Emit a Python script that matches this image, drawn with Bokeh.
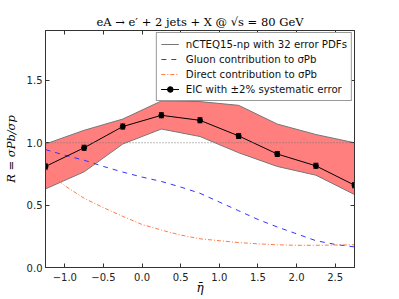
from bokeh.plotting import figure
from bokeh.models import (Range1d, LinearAxis, FixedTicker, Span, Legend, LegendItem,
                          ColumnDataSource, CustomJSTickFormatter)
from bokeh.embed import file_html
from bokeh.resources import INLINE

# ---- data ----
eta = [-1.25, -0.75, -0.25, 0.25, 0.75, 1.25, 1.75, 2.25, 2.75]
ratio = [0.81, 0.96, 1.13, 1.22, 1.18, 1.055, 0.91, 0.815, 0.66]
band_upper = [0.99, 1.10, 1.19, 1.335, 1.33, 1.30, 1.15, 1.066, 1.0]
band_lower = [0.63, 0.767, 0.99, 1.11, 1.05, 0.92, 0.81, 0.74, 0.585]
syst_err = 0.02

eta_fine = [-1.25, -1.0, -0.75, -0.5, -0.25, 0.0, 0.25, 0.5, 0.75, 1.0,
            1.25, 1.5, 1.75, 2.0, 2.25, 2.5, 2.75]
gluon = [0.945, 0.90, 0.86, 0.81, 0.765, 0.725, 0.69, 0.645, 0.595, 0.525,
         0.455, 0.385, 0.325, 0.27, 0.215, 0.185, 0.165]
direct = [0.79, 0.655, 0.555, 0.48, 0.41, 0.345, 0.30, 0.26, 0.23, 0.215,
          0.20, 0.19, 0.182, 0.178, 0.178, 0.18, 0.182]

x_ticks = [-1.0, -0.5, 0.0, 0.5, 1.0, 1.5, 2.0, 2.5]
y_ticks = [0.0, 0.5, 1.0, 1.5]

FONT = "DejaVu Sans"
SERIF = "DejaVu Serif"

fmt = CustomJSTickFormatter(code="return tick.toFixed(1).replace('-', '\\u2212');")
blank = CustomJSTickFormatter(code="return '';")

p = figure(frame_width=309, frame_height=237, output_backend="svg", toolbar_location=None,
           x_range=Range1d(-1.25, 2.75), y_range=Range1d(0.0, 1.9),
           min_border_left=42, min_border_right=32, min_border_top=30, min_border_bottom=20,
           x_axis_label="η̄", y_axis_label="R = σPb/σp",
           title="eA → e′ + 2 jets + X @ √s = 80 GeV")
p.grid.visible = False
p.background_fill_color = "white"
p.border_fill_color = "white"
p.outline_line_color = "#333333"
p.outline_line_width = 1

p.title.align = "center"
p.title.text_font = SERIF
p.title.text_font_style = "normal"
p.title.text_font_size = "11.5px"
p.title.text_color = "black"
p.title.standoff = 3

for ax in (p.xaxis[0], p.yaxis[0]):
    ax.major_tick_in = 4
    ax.major_tick_out = 0
    ax.minor_tick_line_color = None
    ax.axis_line_color = "#333333"
    ax.major_tick_line_color = "#333333"
    ax.major_label_text_font = FONT
    ax.major_label_text_font_size = "10px"
    ax.major_label_text_color = "#222222"
    ax.axis_label_text_font = SERIF
    ax.axis_label_text_font_style = "italic"
    ax.axis_label_text_font_size = "12px"
    ax.axis_label_text_color = "black"
    ax.formatter = fmt
p.xaxis[0].ticker = FixedTicker(ticks=x_ticks)
p.yaxis[0].ticker = FixedTicker(ticks=y_ticks)
p.xaxis[0].major_label_standoff = 5
p.xaxis[0].axis_label_standoff = -3
p.yaxis[0].major_label_standoff = 3
p.yaxis[0].axis_label_standoff = 6
p.yaxis[0].axis_label_text_font_size = "11.5px"

# mirrored ticks
for loc, tk in (("right", y_ticks), ("above", x_ticks)):
    a = LinearAxis(ticker=FixedTicker(ticks=tk), major_tick_in=4, major_tick_out=0,
                   minor_tick_line_color=None, formatter=blank,
                   major_label_standoff=0, axis_line_color="#333333",
                   major_tick_line_color="#333333")
    p.add_layout(a, loc)

# band
src = ColumnDataSource(dict(x=eta, y=ratio, up=band_upper, lo=band_lower,
                            ey0=[v - syst_err for v in ratio],
                            ey1=[v + syst_err for v in ratio]))
p.varea(x="x", y1="lo", y2="up", source=src, fill_color="#ff7f7f", fill_alpha=1.0)
r_band = p.line(x="x", y="up", source=src, line_color="#777777", line_width=1)
p.line(x="x", y="lo", source=src, line_color="#777777", line_width=1)

# reference line
p.add_layout(Span(location=1.0, dimension="width", line_color="#777777",
                  line_dash="1 2", line_width=1))

# contributions
r_gl = p.line(eta_fine, gluon, line_color="#3333ff", line_dash="5 5", line_width=1)
r_dir = p.line(eta_fine, direct, line_color="#ff7a40", line_dash="4 2 1 2", line_width=1)

# EIC points
r_l = p.line(x="x", y="y", source=src, line_color="black", line_width=1)
r_e = p.segment(x0="x", y0="ey0", x1="x", y1="ey1", source=src, line_color="black", line_width=1)
p.rect(x="x", y="ey0", width=5, height=1, width_units="screen", height_units="screen",
       source=src, fill_color="black", line_color=None)
p.rect(x="x", y="ey1", width=5, height=1, width_units="screen", height_units="screen",
       source=src, fill_color="black", line_color=None)
r_s = p.scatter(x="x", y="y", source=src, size=5, color="black")

legend = Legend(items=[
    LegendItem(label="nCTEQ15-np with 32 error PDFs", renderers=[r_band]),
    LegendItem(label="Gluon contribution to σPb", renderers=[r_gl]),
    LegendItem(label="Direct contribution to σPb", renderers=[r_dir]),
    LegendItem(label="EIC with ±2% systematic error", renderers=[r_l, r_e, r_s]),
], location="top_right")
legend.label_text_font = FONT
legend.label_text_font_size = "10.2px"
legend.label_text_color = "#111111"
legend.label_height = 14
legend.glyph_height = 14
legend.glyph_width = 18
legend.label_standoff = 7
legend.spacing = 1
legend.padding = 4
legend.margin = 2
legend.border_line_color = "#333333"
legend.border_line_width = 1
legend.background_fill_alpha = 1.0
p.add_layout(legend)

open("out.html", "w").write(file_html(p, INLINE))
